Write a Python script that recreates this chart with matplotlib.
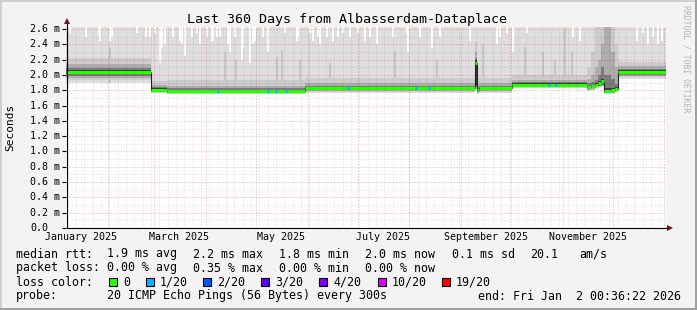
# Smokeping style latency chart, last 360 days
import matplotlib
matplotlib.use("Agg")
import matplotlib.pyplot as plt
import numpy as np
from matplotlib.patches import Rectangle, Polygon
from matplotlib.lines import Line2D

W, H = 697, 310
MONO = "DejaVu Sans Mono"

# ---- data (x = days since 2025-01-01) ----
seg_day = [6.0, 57.0, 66.6, 149.4, 251.5, 252.5, 253.8, 273.6, 318.5, 321.0,
           323.3, 325.0, 327.0, 328.7, 333.0, 335.3, 337.1, 366.1]
median = [2.04, 1.81, 1.795, 1.825, 2.16, 1.80, 1.825, 1.875, 1.845, 1.85,
          1.87, 1.89, 1.92, 1.79, 1.80, 1.82, 2.04]
band5_lo = [2.015, 1.795, 1.78, 1.81, 1.86, 1.78, 1.81, 1.86, 1.83, 1.84, 1.86, 1.87, 1.89, 1.78, 1.785, 1.81, 2.015]
band5_hi = [2.06, 1.825, 1.81, 1.84, 2.20, 1.815, 1.84, 1.89, 1.86, 1.87, 1.89, 1.92, 1.95, 1.83, 1.83, 1.84, 2.06]
band4_lo = [1.99, 1.785, 1.77, 1.80, 1.85, 1.775, 1.80, 1.85, 1.82, 1.83, 1.85, 1.86, 1.87, 1.77, 1.775, 1.80, 2.00]
band4_hi = [2.09, 1.845, 1.83, 1.86, 2.22, 1.83, 1.86, 1.91, 1.89, 1.91, 1.94, 2.00, 2.10, 2.00, 1.95, 1.88, 2.08]
band3_lo = [1.96, 1.775, 1.76, 1.79, 1.84, 1.77, 1.79, 1.84, 1.81, 1.82, 1.84, 1.85, 1.86, 1.765, 1.77, 1.79, 1.99]
band3_hi = [2.14, 1.87, 1.86, 1.89, 2.30, 1.87, 1.89, 1.94, 1.95, 2.00, 2.10, 2.20, 2.40, 2.63, 2.30, 2.10, 2.12]
band2_lo = [1.93, 1.77, 1.755, 1.78, 1.83, 1.76, 1.78, 1.835, 1.80, 1.81, 1.83, 1.84, 1.85, 1.76, 1.76, 1.78, 1.97]
band2_hi = [2.22, 1.92, 1.93, 1.96, 2.45, 1.95, 1.96, 2.00, 2.10, 2.30, 2.63, 2.63, 2.63, 2.63, 2.63, 2.40, 2.17]
band1_lo = [1.90, 1.76, 1.745, 1.77, 1.82, 1.75, 1.77, 1.825, 1.79, 1.80, 1.82, 1.83, 1.84, 1.75, 1.75, 1.77, 1.95]
band1_hi = [2.63] * 17

# white gaps at the top of the smoke (max ping lower than the top)
gap_day = [8.4, 18.0, 25.8, 26.4, 32.4, 33.6, 48.6, 54.0, 56.4, 59.4, 62.4, 63.6, 65.4,
           70.2, 74.4, 75.6, 77.4, 81.6, 84.6, 86.4, 90.6, 93.6, 94.2, 96.6, 98.4,
           103.2, 104.4, 107.4, 111.6, 112.2, 116.4, 118.2, 119.4, 124.2, 127.2, 137.4,
           144.6, 145.2, 152.4, 154.2, 157.2, 158.4, 162.6, 166.2, 169.2, 172.2, 176.4,
           181.2, 185.4, 188.4, 192.6, 202.2, 210.6, 211.2, 218.4, 225.6, 230.4, 248.4,
           264.6, 266.4, 270.6, 274.2, 282.6, 310.2, 314.4, 348.6, 352.2, 355.2, 358.2,
           361.2, 363.6]
gap_low = [2.55, 2.50, 2.52, 2.45, 2.45, 2.50, 2.55, 2.50, 2.50, 2.55, 2.15, 2.35, 2.40,
           2.50, 2.45, 2.40, 2.25, 2.50, 2.55, 2.40, 2.50, 2.45, 2.45, 2.50, 2.50,
           2.40, 2.30, 2.50, 2.20, 2.35, 2.16, 2.40, 2.45, 2.50, 2.30, 2.55,
           2.45, 2.50, 2.55, 2.45, 2.50, 2.40, 2.50, 2.45, 2.50, 2.55, 2.50,
           2.55, 2.45, 2.50, 2.40, 2.50, 2.55, 2.30, 2.50, 2.35, 2.50, 2.45,
           2.40, 2.50, 2.55, 2.30, 2.55, 2.50, 2.45, 2.45, 2.55, 2.40, 2.50,
           2.40, 2.45]

# occasional higher jitter streaks
streak_day = [32.4, 101.4, 108.0, 132.6, 135.6, 146.4, 164.4, 203.4, 228.6, 256.2,
              281.4, 292.2, 299.4, 305.4, 309.6]
streak_hi = [2.35, 2.30, 2.20, 2.24, 2.33, 2.20, 2.15, 2.30, 2.20, 2.40,
             2.37, 2.30, 2.20, 2.60, 2.30]

# bins with 1/20 packet loss (median drawn in light blue)
loss1_day = [97.2, 127.2, 132.0, 138.0, 175.2, 216.0, 223.8, 295.8, 300.0]

month_start = [31, 59, 90, 120, 151, 181, 212, 243, 273, 304, 334, 365]
label_day = [15, 74, 135, 196, 258, 319]
label_text = ["January 2025", "March 2025", "May 2025", "July 2025",
              "September 2025", "November 2025"]
yticks = [0.0, 0.2, 0.4, 0.6, 0.8, 1.0, 1.2, 1.4, 1.6, 1.8, 2.0, 2.2, 2.4, 2.6]
ylabels = ["0.0", "0.2 m", "0.4 m", "0.6 m", "0.8 m", "1.0 m", "1.2 m", "1.4 m",
           "1.6 m", "1.8 m", "2.0 m", "2.2 m", "2.4 m", "2.6 m"]

legend_rows = [
    ("median rtt:", ["1.9 ms avg", "2.2 ms max", "1.8 ms min", "2.0 ms now", "0.1 ms sd", "20.1", "am/s"]),
    ("packet loss:", ["0.00 % avg", "0.35 % max", "0.00 % min", "0.00 % now"]),
]
loss_labels = ["0", "1/20", "2/20", "3/20", "4/20", "10/20", "19/20"]
loss_colors = ["#26ff00", "#00b8ff", "#0059ff", "#5e00ff", "#7e00ff", "#dd00ff", "#ff0000"]

XMIN, XMAX = 6.025, 366.025
YMAX = 2.627


def fx(x):
    return x / W


def fy(y):
    return 1 - y / H


fig = plt.figure(figsize=(W / 100, H / 100), dpi=100, facecolor="#f3f3f3")
ax = fig.add_axes([fx(66), fy(228), 600 / W, 201 / H])
ax.set_facecolor("white")
ax.set_xlim(XMIN, XMAX)
ax.set_ylim(0, YMAX)
for s in ax.spines.values():
    s.set_visible(False)

x = np.array(seg_day)


def ext(a):
    return list(a) + [a[-1]]


ax.fill_between(x, ext(band1_lo), ext(band1_hi), step="post", color="#dedede", lw=0, zorder=1)
ax.bar(gap_day, YMAX - np.array(gap_low), bottom=gap_low, width=0.9, color="white", lw=0, zorder=2)
ax.bar(streak_day, np.array(streak_hi) - 1.9, bottom=1.9, width=1.1, color="#c6c6c6", lw=0, zorder=2.5)
ax.fill_between(x, ext(band2_lo), ext(band2_hi), step="post", color="#cccccc", lw=0, zorder=3)
ax.fill_between(x, ext(band3_lo), ext(band3_hi), step="post", color="#adadad", lw=0, zorder=4)
ax.fill_between(x, ext(band4_lo), ext(band4_hi), step="post", color="#7c7c7c", lw=0, zorder=5)
ax.fill_between(x, ext(band5_lo), ext(band5_hi), step="post", color="#3c3c3c", lw=0, zorder=6)

# grid
for v in np.arange(0.1, 2.65, 0.2):
    ax.axhline(v, color="#000000", alpha=0.13, lw=0.72, ls=(0, (1, 2)), zorder=7)
for d in np.arange(7, 366, 5):
    ax.axvline(d, color="#000000", alpha=0.13, lw=0.72, ls=(0, (1, 2)), zorder=7)
for v in yticks[1:]:
    ax.axhline(v, color="#ff0000", alpha=0.35, lw=0.72, ls=(0, (1, 2)), zorder=7.5)
for d in month_start:
    ax.axvline(d, color="#ff0000", alpha=0.35, lw=0.72, ls=(0, (1, 2)), zorder=7.5)

# median
ax.step(x, ext(median), where="post", color="#222222", lw=0.8, zorder=8)
ax.hlines(median, x[:-1], x[1:], color=loss_colors[0], lw=2.2, zorder=9)
lm = np.array(median)[np.searchsorted(x, loss1_day, side="right") - 1]
ax.hlines(lm, np.array(loss1_day) - 0.6, np.array(loss1_day) + 0.6, color=loss_colors[1], lw=2.2, zorder=10)

# ticks (y labels are left aligned like rrdtool)
ax.set_yticks(yticks)
ax.set_yticklabels([])
ax.tick_params(axis="y", length=3, width=0.8, color="black")
for v, lab in zip(yticks, ylabels):
    ax.text(-36 / 600 * (XMAX - XMIN) + XMIN, v, lab, ha="left", va="center",
            fontfamily=MONO, fontsize=7.2, clip_on=False)
ax.set_xticks(label_day)
ax.set_xticklabels(label_text, fontfamily=MONO, fontsize=7.2)
ax.tick_params(axis="x", length=0, pad=3.0)

# axes lines with arrows
fig.add_artist(Line2D([fx(67), fx(667)], [fy(228), fy(228)], color="black", lw=0.8))
fig.add_artist(Line2D([fx(67), fx(67)], [fy(228), fy(24)], color="black", lw=0.8))
fig.add_artist(Polygon([(fx(667), fy(225)), (fx(673), fy(228)), (fx(667), fy(231))], closed=True, color="#7a1010", lw=0))
fig.add_artist(Polygon([(fx(64), fy(24)), (fx(67), fy(18)), (fx(70), fy(24))], closed=True, color="#7a1010", lw=0))

# texts
fig.text(fx(347), fy(19), "Last 360 Days from Albasserdam-Dataplace", ha="center", va="center",
         fontfamily=MONO, fontsize=9.6)
fig.text(fx(10), fy(127), "Seconds", rotation=90, ha="center", va="center", fontfamily=MONO, fontsize=8)
fig.text(fx(686), fy(59), "RRDTOOL / TOBI OETIKER", rotation=270, ha="center", va="center",
         fontfamily=MONO, fontsize=5.9, color="#b4b4b4")

cols = [107, 193, 279, 365, 452, 530, 579]
rows_y = [254, 268, 282, 296]
LF = 8.4
for (head, parts), ry in zip(legend_rows, rows_y):
    fig.text(fx(16), fy(ry), head, ha="left", va="center", fontfamily=MONO, fontsize=LF)
    for cx, p in zip(cols, parts):
        fig.text(fx(cx), fy(ry), p, ha="left", va="center", fontfamily=MONO, fontsize=LF)

fig.text(fx(16), fy(rows_y[2]), "loss color:", ha="left", va="center", fontfamily=MONO, fontsize=LF)
box_x = [109, 146, 203, 261, 319, 378, 442]
for bx, lab, col in zip(box_x, loss_labels, loss_colors):
    fig.add_artist(Rectangle((fx(bx), fy(rows_y[2] + 4)), 8 / W, 8 / H, facecolor=col,
                             edgecolor="black", lw=0.8))
    fig.text(fx(bx + 14), fy(rows_y[2]), lab, ha="left", va="center", fontfamily=MONO, fontsize=LF)

fig.text(fx(16), fy(rows_y[3]), "probe:", ha="left", va="center", fontfamily=MONO, fontsize=LF)
fig.text(fx(107), fy(rows_y[3]), "20 ICMP Echo Pings (56 Bytes) every 300s", ha="left", va="center",
         fontfamily=MONO, fontsize=LF)
fig.text(fx(478), fy(rows_y[3]), "end: Fri Jan  2 00:36:22 2026", ha="left", va="center",
         fontfamily=MONO, fontsize=LF)

# 3D frame
fig.add_artist(Line2D([0, 1], [fy(0.5), fy(0.5)], color="#cfcfcf", lw=1.4))
fig.add_artist(Line2D([fx(0.5), fx(0.5)], [0, 1], color="#cfcfcf", lw=1.4))
fig.add_artist(Line2D([0, 1], [fy(309), fy(309)], color="#9e9e9e", lw=1.4))
fig.add_artist(Line2D([fx(696), fx(696)], [0, 1], color="#9e9e9e", lw=1.4))

fig.savefig("out.png", dpi=100, facecolor=fig.get_facecolor())
